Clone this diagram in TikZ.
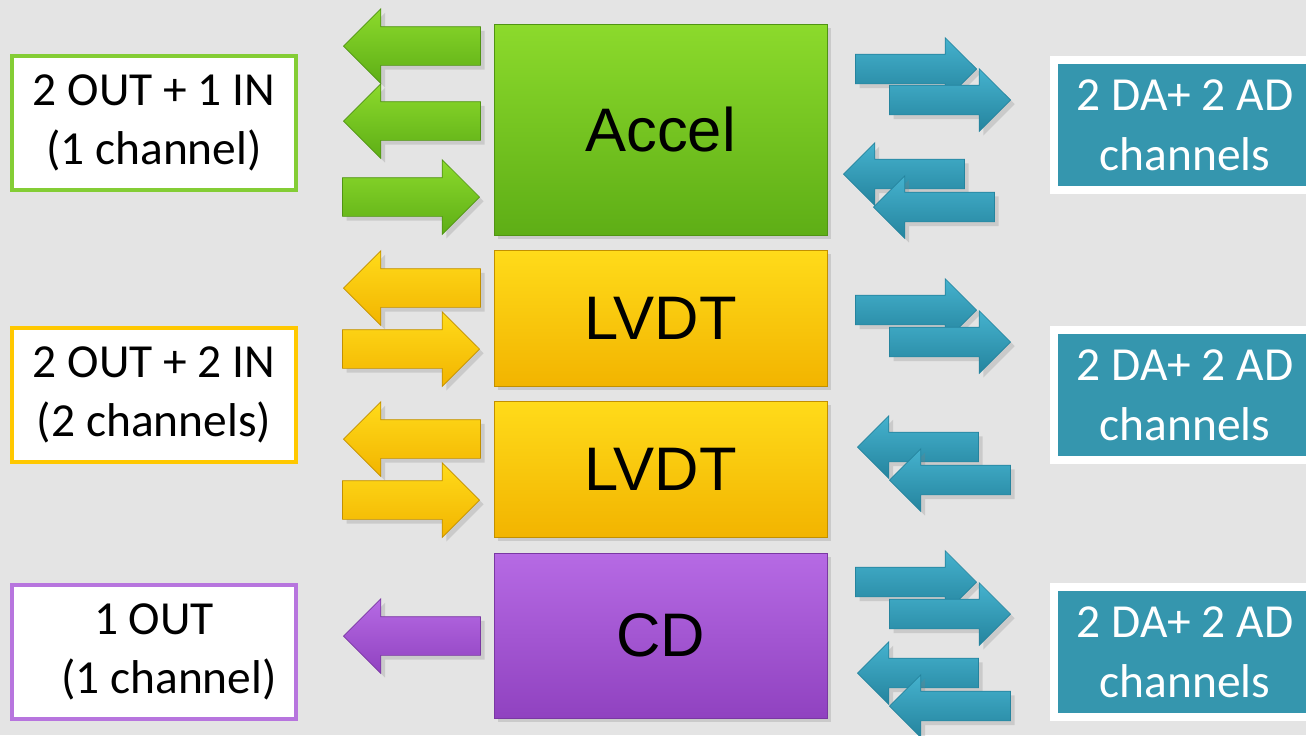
\documentclass[tikz,border=0pt]{standalone}
\usepackage{fontspec}
\setmainfont{Carlito}
\newfontfamily\unitfont{Liberation Sans}
\usetikzlibrary{shapes.arrows, positioning, shadows}

\definecolor{bggray}{HTML}{E4E4E4}
\definecolor{accgreen}{HTML}{76C81E}
\definecolor{accgreenhi}{HTML}{8CDA2C}
\definecolor{accgreenlo}{HTML}{5EAE16}
\definecolor{lvdtgold}{HTML}{FFCC00}
\definecolor{lvdtgoldhi}{HTML}{FFDB1A}
\definecolor{lvdtgoldlo}{HTML}{F2B400}
\definecolor{cdpurple}{HTML}{A552D6}
\definecolor{cdpurplehi}{HTML}{B66AE4}
\definecolor{cdpurplelo}{HTML}{9042C0}
\definecolor{chteal}{HTML}{2E9BB8}
\definecolor{chtealhi}{HTML}{45B2CE}
\definecolor{chteallo}{HTML}{25849E}
\definecolor{boxteal}{HTML}{3596AE}

\begin{document}
\begin{tikzpicture}[x=0.02cm, y=-0.02cm,
  unit/.style={rectangle, minimum width=6.66cm, inner sep=0pt,
    font=\unitfont\fontsize{35}{38}\selectfont, drop shadow={opacity=0.25}},
  iobox/.style={rectangle, fill=white, line width=2.3pt, minimum width=5.68cm,
    minimum height=2.68cm, align=center, font=\fontsize{27}{34}\selectfont},
  chbox/.style={rectangle, fill=boxteal, draw=white, line width=4.5pt,
    minimum width=5.24cm, minimum height=2.6cm, align=center, text=white,
    font=\fontsize{27}{34}\selectfont, drop shadow={opacity=0.3}},
  bigarrow/.style={single arrow, single arrow head extend=0.36cm, inner ysep=0.38cm,
    inner xsep=0pt, minimum height=2.74cm, drop shadow={opacity=0.25}},
  chanarrow/.style={single arrow, single arrow head extend=0.33cm, inner ysep=0.29cm,
    inner xsep=0pt, minimum height=2.42cm, top color=chtealhi, bottom color=chteallo,
    draw=chteallo, drop shadow={opacity=0.25}},
  toleft/.style={shape border rotate=180, anchor=tip},
  toright/.style={anchor=tip},
  greenfill/.style={top color=accgreenhi, bottom color=accgreenlo, draw=accgreenlo!85!black},
  goldfill/.style={top color=lvdtgoldhi, bottom color=lvdtgoldlo, draw=lvdtgoldlo!80!black},
  purplefill/.style={top color=cdpurplehi, bottom color=cdpurplelo, draw=cdpurplelo!85!black}]

\fill[bggray] (0,0) rectangle (1306,735);
\useasboundingbox (0,0) rectangle (1306,735);
\clip (0,0) rectangle (1306,735);

% units in the middle
\node[unit, greenfill, minimum height=4.22cm]  (accel) at (660.5,129.5) {Accel};
\node[unit, goldfill, minimum height=2.72cm]   (lvdt1) at (660.5,318)   {LVDT};
\node[unit, goldfill, minimum height=2.72cm]   (lvdt2) at (660.5,469)   {LVDT};
\node[unit, purplefill, minimum height=3.3cm]  (cd)    at (660.5,635.5) {CD};

% what each unit needs
\node[iobox, draw=accgreen!90!white] (accio) at (154,123) {2 OUT + 1 IN\\(1 channel)};
\node[iobox, draw=lvdtgold!95!orange] (lvdtio) at (154,395) {2 OUT + 2 IN\\(2 channels)};
\node[iobox, draw=cdpurple!80!white] (cdio) at (154,652) {1 OUT\\\hspace*{0.6cm}(1 channel)};

% converter channels
\node[chbox] (accch)  at (1185,125) {2 DA+ 2 AD\\channels};
\node[chbox] (lvdtch) at (1185,395) {2 DA+ 2 AD\\channels};
\node[chbox] (cdch)   at (1185,652) {2 DA+ 2 AD\\channels};

% signals on the left
\node[bigarrow, greenfill, toleft]  (accout1) at (343,46)  {};
\node[bigarrow, greenfill, toleft]  (accout2) at (343,121) {};
\node[bigarrow, greenfill, toright] (accin)   at (480,197) {};
\node[bigarrow, goldfill, toleft]   (lvdtout1) at (343,288) {};
\node[bigarrow, goldfill, toright]  (lvdtin1)  at (480,349) {};
\node[bigarrow, goldfill, toleft]   (lvdtout2) at (343,439) {};
\node[bigarrow, goldfill, toright]  (lvdtin2)  at (480,500) {};
\node[bigarrow, purplefill, toleft] (cdout)    at (343,636) {};

% signals on the right
\node[chanarrow, toright] (accda1) at (977,69)   {};
\node[chanarrow, toright] (accda2) at (1011,100) {};
\node[chanarrow, toleft]  (accad1) at (843,174)  {};
\node[chanarrow, toleft]  (accad2) at (873,207)  {};
\node[chanarrow, toright] (lvdtda1) at (977,310)  {};
\node[chanarrow, toright] (lvdtda2) at (1011,342) {};
\node[chanarrow, toleft]  (lvdtad1) at (857,447)  {};
\node[chanarrow, toleft]  (lvdtad2) at (889,480)  {};
\node[chanarrow, toright] (cdda1) at (977,582)  {};
\node[chanarrow, toright] (cdda2) at (1011,614) {};
\node[chanarrow, toleft]  (cdad1) at (857,673)  {};
\node[chanarrow, toleft]  (cdad2) at (889,706)  {};
\end{tikzpicture}
\end{document}
